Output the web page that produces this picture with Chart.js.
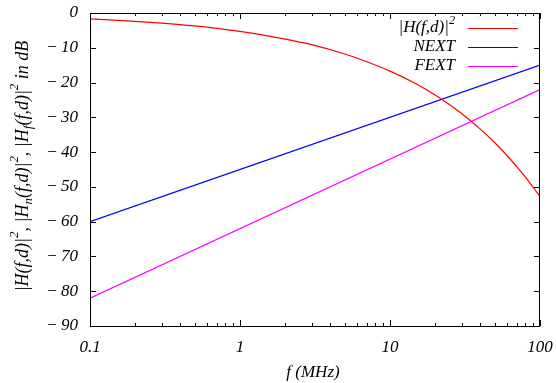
<!DOCTYPE html>
<html>
<head>
<meta charset="utf-8">
<script src="https://cdn.jsdelivr.net/npm/chart.js@4"></script>
<style>
  html, body { margin: 0; padding: 0; background: #fff; }
  #wrap { width: 556px; height: 383px; }
</style>
</head>
<body>
<div id="wrap"><canvas id="chart" width="556" height="383"></canvas></div>
<script>
// frequencies in MHz
const freqs = [0.1, 0.2, 0.3, 0.5, 0.7, 1, 1.5, 2, 3, 5, 7, 10, 15, 20, 30, 40, 50, 60, 70, 80, 90, 100];
// |H(f,d)|^2 in dB
const hValues = [-1.7, -2.4, -2.9, -3.7, -4.4, -5.3, -6.5, -7.5, -9.1, -11.8, -14.0, -16.7, -20.4, -23.6, -28.9, -33.4, -37.3, -40.9, -44.2, -47.2, -50.1, -52.8];
// NEXT / FEXT are straight in log f
const nextFreqs = [0.1, 100];
const nextValues = [-60, -15];
const fextFreqs = [0.1, 100];
const fextValues = [-82, -22];

const xMajor = [0.1, 1, 10, 100];
const xMajorLabels = ['0.1', '1', '10', '100'];
const yTicks = [0, -10, -20, -30, -40, -50, -60, -70, -80, -90];

const FONT = '"Liberation Serif", "DejaVu Serif", serif';

const toPoints = (xs, ys) => xs.map((x, i) => ({ x, y: ys[i] }));

// italic text with sup/sub pieces
function richWidth(ctx, parts, size) {
    let w = 0;
    parts.forEach(p => {
        const s = p.sup || p.sub ? size * 0.72 : size;
        ctx.font = `italic ${s}px ${FONT}`;
        w += ctx.measureText(p.t).width;
    });
    return w;
}
function drawRich(ctx, parts, x, y, size) {
    ctx.textBaseline = 'middle';
    ctx.textAlign = 'left';
    parts.forEach(p => {
        const s = p.sup || p.sub ? size * 0.72 : size;
        ctx.font = `italic ${s}px ${FONT}`;
        let dy = 0;
        if (p.sup) dy = -size * 0.45;
        if (p.sub) dy = size * 0.3;
        ctx.fillText(p.t, x, y + dy);
        x += ctx.measureText(p.t).width;
    });
}

const legendItems = [
    { parts: [{ t: '|H(f,d)|' }, { t: '2', sup: true }], color: '#ff0000' },
    { parts: [{ t: 'NEXT' }], color: '#0000ff' },
    { parts: [{ t: 'FEXT' }], color: '#ff00ff' }
];

const yTitle = [
    { t: '|H(f,d)|' }, { t: '2', sup: true }, { t: ', |H' }, { t: 'n', sub: true },
    { t: '(f,d)|' }, { t: '2', sup: true }, { t: ', |H' }, { t: 'f', sub: true },
    { t: '(f,d)|' }, { t: '2', sup: true }, { t: ' in dB' }
];

const framePlugin = {
    id: 'frame',
    afterDatasetsDraw(chart) {
        const ctx = chart.ctx;
        const a = chart.chartArea;
        const xs = chart.scales.x, ys = chart.scales.y;
        ctx.save();
        ctx.strokeStyle = '#000';
        ctx.lineWidth = 1;
        ctx.strokeRect(Math.round(a.left) + 0.5, Math.round(a.top) + 0.5,
            Math.round(a.right - a.left) - 1, Math.round(a.bottom - a.top));

        ctx.beginPath();
        // y ticks on both sides
        yTicks.forEach(v => {
            const py = Math.round(ys.getPixelForValue(v)) + 0.5;
            ctx.moveTo(a.left, py); ctx.lineTo(a.left + 6, py);
            ctx.moveTo(a.right, py); ctx.lineTo(a.right - 6, py);
        });
        // x ticks, major and minor, top and bottom
        for (let d = 0.1; d < 150; d *= 10) {
            for (let m = 1; m <= 9; m++) {
                const v = d * m;
                if (v > 100.001) break;
                const px = Math.round(xs.getPixelForValue(v)) + 0.5;
                const len = m === 1 ? 6 : 3;
                ctx.moveTo(px, a.bottom); ctx.lineTo(px, a.bottom - len);
                ctx.moveTo(px, a.top); ctx.lineTo(px, a.top + len);
            }
        }
        ctx.stroke();

        // tick labels
        ctx.fillStyle = '#000';
        ctx.font = `italic 17px ${FONT}`;
        ctx.textAlign = 'right';
        ctx.textBaseline = 'middle';
        yTicks.forEach(v => {
            const txt = v === 0 ? '0' : '\u2212\u2009' + Math.abs(v);
            ctx.fillText(txt, a.left - 12, ys.getPixelForValue(v));
        });
        ctx.textAlign = 'center';
        xMajor.forEach((v, i) => {
            ctx.fillText(xMajorLabels[i], xs.getPixelForValue(v), a.bottom + 22);
        });

        // x title
        ctx.fillText('f (MHz)', 313, 373);

        // y title, rotated
        ctx.save();
        ctx.translate(23, 166);
        ctx.rotate(-Math.PI / 2);
        const w = richWidth(ctx, yTitle, 18);
        drawRich(ctx, yTitle, -w / 2, 0, 18);
        ctx.restore();

        // legend: text right aligned, then sample line
        ctx.lineWidth = 1.2;
        legendItems.forEach((it, i) => {
            const y = 28 + i * 19;
            const tw = richWidth(ctx, it.parts, 17);
            drawRich(ctx, it.parts, 455 - tw, y, 17);
            ctx.strokeStyle = it.color;
            ctx.beginPath();
            ctx.moveTo(468, y + 0.5); ctx.lineTo(518, y + 0.5);
            ctx.stroke();
        });
        ctx.restore();
    }
};

const lineStyle = color => ({
    borderColor: color,
    backgroundColor: color,
    borderWidth: 1.2,
    pointRadius: 0,
    fill: false
});

new Chart(document.getElementById('chart').getContext('2d'), {
    type: 'line',
    data: {
        datasets: [
            { label: 'H', data: toPoints(freqs, hValues), cubicInterpolationMode: 'monotone', ...lineStyle('#ff0000') },
            { label: 'NEXT', data: toPoints(nextFreqs, nextValues), ...lineStyle('#0000ff') },
            { label: 'FEXT', data: toPoints(fextFreqs, fextValues), ...lineStyle('#ff00ff') }
        ]
    },
    options: {
        responsive: false,
        animation: false,
        layout: { padding: { left: 90, right: 16, top: 13, bottom: 57 } },
        scales: {
            x: { type: 'logarithmic', min: 0.1, max: 100, display: false },
            y: { type: 'linear', min: -90, max: 0, display: false }
        },
        plugins: {
            legend: { display: false },
            tooltip: { enabled: false }
        }
    },
    plugins: [framePlugin]
});
</script>
</body>
</html>
